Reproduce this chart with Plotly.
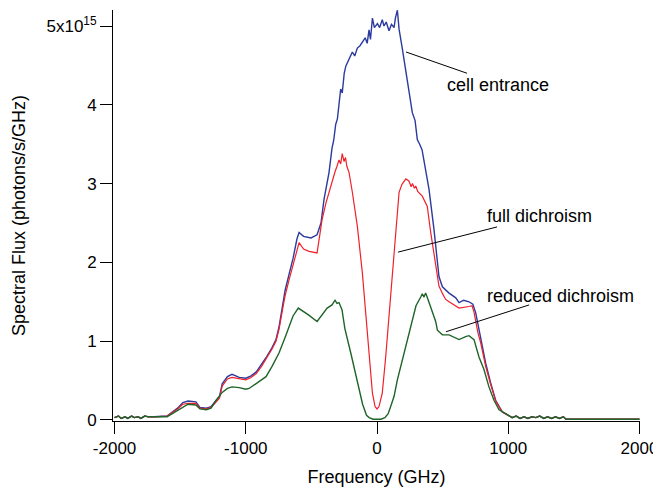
import plotly.graph_objects as go

# spectral flux, units of 1e15 photons/s/GHz
entrance_freq = [-2000, -1970, -1950, -1920, -1900, -1870, -1850, -1820, -1800, -1770, -1740, -1700,
                 -1600, -1560, -1520, -1480, -1440, -1380, -1350, -1300, -1265, -1230, -1200, -1180,
                 -1140, -1105, -1050, -1000, -960, -920, -880, -846, -800, -770, -747, -720, -700,
                 -670, -640, -610, -594, -560, -503, -457, -427, -404, -385, -366, -343, -330, -315,
                 -302, -290, -277, -265, -250, -238, -220, -200, -188, -170, -150, -130, -112, -90,
                 -75, -61, -50, -35, -20, 3, 20, 40, 53, 70, 91, 110, 130, 140, 155, 162, 168, 193,
                 231, 269, 290, 307, 325, 343, 396, 434, 472, 498, 549, 600, 625, 660, 701, 730,
                 752, 790, 828, 866, 904, 955, 1000, 1030, 1060, 1090, 1120, 1150, 1180, 1210, 1240,
                 1270, 1300, 1330, 1360, 1390, 1420, 1440, 2000]
entrance_flux = [0.03, 0.05, 0.02, 0.04, 0.02, 0.05, 0.03, 0.04, 0.02, 0.05, 0.04, 0.04,
                 0.05, 0.10, 0.15, 0.22, 0.24, 0.23, 0.16, 0.15, 0.17, 0.24, 0.30, 0.46,
                 0.55, 0.58, 0.54, 0.53, 0.56, 0.61, 0.70, 0.79, 0.92, 1.02, 1.18, 1.45, 1.65,
                 1.85, 2.05, 2.30, 2.38, 2.33, 2.31, 2.35, 2.50, 2.80, 2.98, 3.14, 3.45, 3.55, 3.75,
                 3.82, 4.00, 4.20, 4.15, 4.40, 4.49, 4.55, 4.62, 4.67, 4.62, 4.72, 4.75, 4.80, 4.85,
                 4.78, 4.95, 4.83, 5.10, 4.98, 5.03, 4.98, 5.08, 5.00, 5.05, 4.94, 5.02, 4.98, 5.10,
                 5.20, 5.00, 4.96, 4.71, 4.28, 3.90, 3.80, 3.56, 3.50, 3.43, 2.93, 2.42, 1.82, 1.69,
                 1.61, 1.55, 1.49, 1.52, 1.50, 1.47, 1.36, 1.06, 0.72, 0.47, 0.25, 0.10, 0.06, 0.03,
                 0.05, 0.02, 0.04, 0.02, 0.04, 0.03, 0.05, 0.02, 0.04, 0.02, 0.04, 0.02, 0.04, 0.01,
                 0.01]

full_freq = [-2000, -1970, -1950, -1920, -1900, -1870, -1850, -1820, -1800, -1770, -1740, -1700,
             -1600, -1560, -1520, -1480, -1440, -1380, -1350, -1300, -1265, -1230, -1200, -1180,
             -1140, -1105, -1050, -1000, -960, -920, -880, -846, -800, -770, -747, -720, -700,
             -670, -640, -610, -594, -560, -518, -457, -440, -419, -390, -366, -343, -320, -305,
             -290, -277, -265, -251, -240, -230, -213, -188, -150, -112, -86, -61, -35, -15, 0,
             15, 40, 66, 91, 117, 142, 168, 190, 206, 220, 244, 260, 270, 285, 295, 310, 345, 383,
             409, 447, 472, 500, 523, 549, 625, 701, 724, 739, 770, 790, 828, 866, 904, 955, 1000,
             1030, 1060, 1090, 1120, 1150, 1180, 1210, 1240, 1270, 1300, 1330, 1360, 1390, 1420,
             1440, 2000]
full_flux = [0.03, 0.05, 0.02, 0.04, 0.02, 0.05, 0.03, 0.04, 0.02, 0.05, 0.04, 0.04,
             0.05, 0.09, 0.14, 0.20, 0.21, 0.21, 0.15, 0.14, 0.16, 0.22, 0.28, 0.43,
             0.52, 0.54, 0.52, 0.51, 0.54, 0.59, 0.68, 0.77, 0.90, 1.00, 1.15, 1.40, 1.58,
             1.78, 1.97, 2.18, 2.25, 2.17, 2.14, 2.12, 2.30, 2.54, 2.75, 2.89, 3.05, 3.15, 3.22,
             3.30, 3.25, 3.38, 3.28, 3.33, 3.22, 3.14, 2.89, 2.46, 1.87, 1.36, 0.80, 0.34, 0.17,
             0.14, 0.17, 0.34, 0.80, 1.31, 1.87, 2.46, 2.89, 2.99, 3.02, 3.06, 3.03, 2.96, 3.00,
             2.94, 2.97, 2.90, 2.84, 2.71, 2.38, 2.00, 1.70, 1.60, 1.53, 1.50, 1.42, 1.44, 1.45,
             1.37, 1.10, 0.98, 0.68, 0.45, 0.24, 0.10, 0.06, 0.03, 0.05, 0.02, 0.04, 0.02, 0.04,
             0.03, 0.05, 0.02, 0.04, 0.02, 0.04, 0.02, 0.04, 0.01, 0.01]

reduced_freq = [-2000, -1970, -1950, -1920, -1900, -1870, -1850, -1820, -1800, -1770, -1740, -1700,
                -1600, -1560, -1520, -1480, -1440, -1380, -1350, -1300, -1265, -1227, -1180, -1140,
                -1105, -1050, -1000, -975, -920, -846, -800, -747, -700, -670, -640, -600, -560,
                -520, -457, -420, -380, -343, -320, -305, -290, -267, -245, -200, -148, -110, -80,
                -60, -30, 0, 30, 60, 85, 104, 130, 155, 183, 219, 250, 282, 297, 333, 345, 358, 370,
                380, 409, 447, 460, 498, 549, 625, 680, 701, 739, 777, 815, 853, 891, 930, 981, 1030,
                1060, 1090, 1120, 1150, 1180, 1210, 1240, 1270, 1300, 1330, 1360, 1390, 1420, 1440,
                2000]
reduced_flux = [0.03, 0.05, 0.02, 0.04, 0.02, 0.05, 0.03, 0.04, 0.02, 0.05, 0.04, 0.04,
                0.04, 0.08, 0.12, 0.17, 0.20, 0.19, 0.14, 0.13, 0.15, 0.25, 0.35, 0.40,
                0.42, 0.41, 0.39, 0.40, 0.46, 0.55, 0.68, 0.85, 1.05, 1.18, 1.32, 1.42, 1.38,
                1.33, 1.25, 1.33, 1.42, 1.46, 1.52, 1.48, 1.49, 1.40, 1.16, 0.85, 0.49, 0.20, 0.06,
                0.03, 0.01, 0.01, 0.01, 0.03, 0.08, 0.17, 0.30, 0.51, 0.70, 0.93, 1.15, 1.36, 1.45,
                1.56, 1.60, 1.56, 1.61, 1.57, 1.44, 1.25, 1.14, 1.08, 1.08, 1.02, 1.06, 1.07, 1.02,
                0.80, 0.64, 0.42, 0.25, 0.13, 0.08, 0.03, 0.05, 0.02, 0.04, 0.02, 0.04, 0.03, 0.05,
                0.02, 0.04, 0.02, 0.04, 0.02, 0.04, 0.01, 0.01]

y_ticks = [0, 1, 2, 3, 4, 5]
y_labels = ['0', '1', '2', '3', '4', '5x10<sup>15</sup>']
x_ticks = [-2000, -1000, 0, 1000, 2000]
x_labels = ['-2000', '-1000', '0', '1000', '2000']

tick_font = dict(family='Liberation Sans, Arial, sans-serif', size=17, color='black')
font = dict(family='Liberation Sans, Arial, sans-serif', size=18, color='black')

fig = go.Figure()
fig.add_trace(go.Scatter(x=entrance_freq, y=entrance_flux, mode='lines',
                         line=dict(color='#2b3a9e', width=1.4), name='cell entrance'))
fig.add_trace(go.Scatter(x=full_freq, y=full_flux, mode='lines',
                         line=dict(color='#f0202a', width=1.2), name='full dichroism'))
fig.add_trace(go.Scatter(x=reduced_freq, y=reduced_flux, mode='lines',
                         line=dict(color='#1f6428', width=1.4), name='reduced dichroism'))

# label leader lines: (x0, y0, x1, y1, text x, text y, text)
labels = [
    (221, 4.67, 686, 4.40, 520, 4.25, 'cell entrance'),
    (160, 2.13, 915, 2.45, 825, 2.59, 'full dichroism'),
    (526, 1.12, 1159, 1.46, 825, 1.57, 'reduced dichroism'),
]
for x0, y0, x1, y1, tx, ty, txt in labels:
    fig.add_shape(type='line', x0=x0, y0=y0, x1=x1, y1=y1, xref='x', yref='y',
                  line=dict(color='black', width=1))
    fig.add_annotation(x=tx, y=ty, text=txt, showarrow=False, xanchor='left', yanchor='middle',
                       font=font)

# page body adds an 8px margin, so the figure is 8px smaller and shifted
fig.update_layout(
    width=653, height=482,
    margin=dict(l=105, r=21, t=2, b=69),
    plot_bgcolor='white', paper_bgcolor='white',
    showlegend=False,
    font=font,
    xaxis=dict(range=[-2012, 2004], tickvals=x_ticks, ticktext=x_labels, ticks='outside',
               ticklen=12, tickcolor='black', showline=True, linecolor='black', linewidth=1,
               showgrid=False, zeroline=False, tickfont=tick_font,
               title=dict(text='Frequency (GHz)', font=font, standoff=12)),
    yaxis=dict(range=[-0.013, 5.203], tickvals=y_ticks, ticktext=y_labels, ticks='outside',
               ticklen=12, tickcolor='black', showline=True, linecolor='black', linewidth=1,
               showgrid=False, zeroline=False, tickfont=tick_font,
               title=dict(text='Spectral Flux (photons/s/GHz)', font=font, standoff=16)),
)

fig.write_html("out.html")
